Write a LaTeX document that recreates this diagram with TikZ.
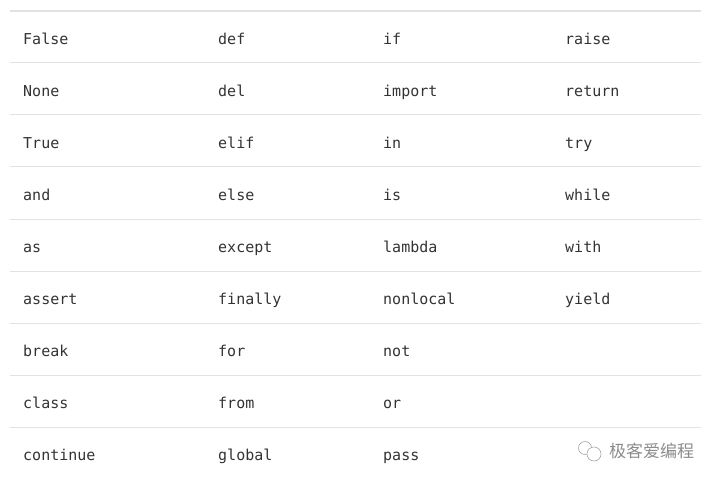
\documentclass[tikz,border=0pt]{standalone}
\usepackage{fontspec}
\setmonofont{DejaVu Sans Mono}
\newfontfamily\cjk{Noto Sans CJK SC}
\definecolor{rule}{HTML}{E2E2E2}
\definecolor{txt}{HTML}{333333}
\begin{document}
\begin{tikzpicture}[x=1pt,y=-1pt,
  kw/.style={anchor=base west,inner sep=0pt,font=\ttfamily\fontsize{15}{15}\selectfont,text=txt},
  rowline/.style={draw=rule,line width=1pt}]
\useasboundingbox (0,0) rectangle (717,481);
\draw[rowline,line width=2pt] (10,11) coordinate(t0) -- (701,11) coordinate(t1);
\foreach \y in {63,115,167,219,271,323,375,427}{
  \draw[rowline] (10,\y) -- (701,\y);
}
\foreach \i/\a/\b/\c/\d in {0/False/def/if/raise,1/None/del/import/return,2/True/elif/in/try,3/and/else/is/while,4/as/except/lambda/with,5/assert/finally/nonlocal/yield,6/break/for/not/,7/class/from/or/,8/continue/global/pass/}{
  \node[kw] (a\i) at (23,44.5+52*\i) {\a};
  \node[kw] (b\i) at (218,44.5+52*\i) {\b};
  \node[kw] (c\i) at (383,44.5+52*\i) {\c};
  \node[kw] (d\i) at (565,44.5+52*\i) {\d};
}
\draw[gray!70,line width=0.6pt] (585,448) circle (6.5);
\draw[gray!70,line width=0.6pt,fill=white] (594,454) circle (7);
\node[anchor=west,inner sep=0pt,text=gray!90,font=\cjk\fontsize{17}{17}\selectfont] (wm) at (609,451) {极客爱编程};
\end{tikzpicture}
\end{document}
